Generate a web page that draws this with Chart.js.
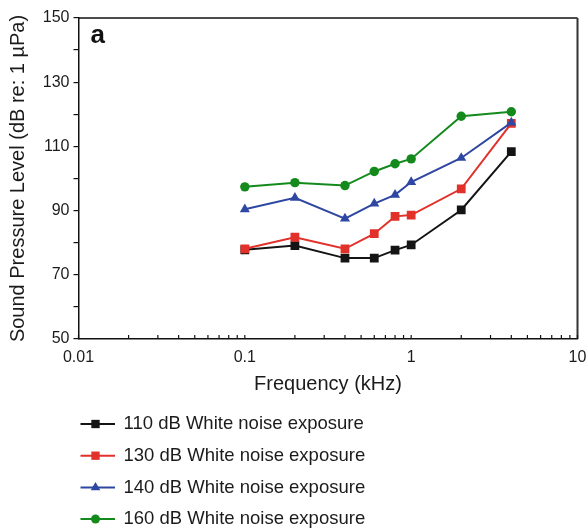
<!DOCTYPE html>
<html>
<head>
<meta charset="utf-8">
<script src="https://cdn.jsdelivr.net/npm/chart.js"></script>
<style>
  body { margin: 0; background: #fff; }
  #wrap { width: 586px; height: 529px; position: relative; }
</style>
</head>
<body>
<div id="wrap"><canvas id="myChart"></canvas></div>
<script>
'use strict'

/* global Chart */

const freqs = [0.1, 0.2, 0.4, 0.6, 0.8, 1, 2, 4]
const spl110 = [77.8, 79.1, 75.2, 75.2, 77.7, 79.3, 90.2, 108.4]
const spl130 = [78.1, 81.7, 78.1, 82.8, 88.2, 88.6, 96.8, 117.2]
const spl140 = [90.4, 94.0, 87.5, 92.2, 94.9, 98.9, 106.4, 117.4]
const spl160 = [97.4, 98.7, 97.8, 102.2, 104.6, 106.1, 119.4, 120.8]
const seriesNames = [
  '110 dB White noise exposure',
  '130 dB White noise exposure',
  '140 dB White noise exposure',
  '160 dB White noise exposure'
]
const xTickLabels = ['0.01', '0.1', '1', '10']
const yTickLabels = ['50', '70', '90', '110', '130', '150']

const FONT = 'Liberation Sans, Arial, Helvetica, sans-serif'
const TEXT = '#1b1b1b'

function pts (ys) {
  return ys.map((y, i) => ({ x: freqs[i], y: y }))
}

const styles = [
  { color: '#141414', shape: 'rect', r: 6.2 },
  { color: '#e2312a', shape: 'rect', r: 6.2 },
  { color: '#2e47a2', shape: 'triangle', r: 5.8 },
  { color: '#148a1c', shape: 'circle', r: 4.7 }
]
const values = [spl110, spl130, spl140, spl160]

const datasets = values.map((v, i) => ({
  label: seriesNames[i],
  data: pts(v),
  borderColor: styles[i].color,
  backgroundColor: styles[i].color,
  borderWidth: 2,
  pointStyle: styles[i].shape,
  pointRadius: styles[i].r,
  pointBorderWidth: 0,
  order: 4 - i,
  tension: 0
}))

// minor ticks on the log axis: 1..9 of each decade
function logTicks () {
  const t = []
  for (let d = -2; d <= 0; d++) {
    for (let m = 1; m <= 9; m++) t.push(+(m * Math.pow(10, d)).toPrecision(2))
  }
  t.push(10)
  return t
}

function drawMarker (ctx, shape, x, y, r) {
  ctx.beginPath()
  if (shape === 'rect') {
    const s = Math.SQRT1_2 * r
    ctx.rect(x - s, y - s, 2 * s, 2 * s)
  } else if (shape === 'triangle') {
    ctx.moveTo(x, y - r)
    ctx.lineTo(x + r * 0.866, y + r / 2)
    ctx.lineTo(x - r * 0.866, y + r / 2)
    ctx.closePath()
  } else {
    ctx.arc(x, y, r, 0, Math.PI * 2)
  }
  ctx.fill()
}

const framePlugin = {
  id: 'frame',
  afterDraw (chart) {
    const ctx = chart.ctx
    const a = chart.chartArea
    const xs = chart.scales.x
    ctx.save()
    // top and right border
    ctx.strokeStyle = '#111'
    ctx.lineWidth = 1.5
    ctx.beginPath()
    ctx.moveTo(a.left, a.top)
    ctx.lineTo(a.right, a.top)
    ctx.stroke()
    ctx.strokeStyle = '#333'
    ctx.lineWidth = 2
    ctx.beginPath()
    ctx.moveTo(a.right, a.top)
    ctx.lineTo(a.right, a.bottom)
    ctx.stroke()
    // inward ticks on the x axis
    ctx.strokeStyle = '#111'
    ctx.lineWidth = 1.2
    for (const v of logTicks()) {
      const px = xs.getPixelForValue(v)
      ctx.beginPath()
      ctx.moveTo(px, a.bottom)
      ctx.lineTo(px, a.bottom - 4)
      ctx.stroke()
    }
    // panel letter
    ctx.fillStyle = '#111'
    ctx.font = 'bold 26px ' + FONT
    ctx.textBaseline = 'alphabetic'
    ctx.fillText('a', 90.5, 42.5)

    // legend
    ctx.font = '18.5px ' + FONT
    ctx.textBaseline = 'middle'
    const rowY = [424, 455.7, 487.5, 519]
    for (let i = 0; i < seriesNames.length; i++) {
      const y = rowY[i]
      ctx.strokeStyle = styles[i].color
      ctx.fillStyle = styles[i].color
      ctx.lineWidth = 2
      ctx.beginPath()
      ctx.moveTo(80.5, y)
      ctx.lineTo(115, y)
      ctx.stroke()
      drawMarker(ctx, styles[i].shape, 95.5, y, styles[i].r * 0.95)
      ctx.fillStyle = TEXT
      ctx.fillText(seriesNames[i], 123.5, y)
    }
    ctx.restore()
  }
}

new Chart(document.getElementById('myChart'), {
  type: 'line',
  data: { datasets: datasets },
  plugins: [framePlugin],
  options: {
    responsive: true,
    maintainAspectRatio: false,
    animation: false,
    layout: { padding: { left: 0, top: 18, right: 8.5, bottom: 120 } },
    plugins: {
      legend: { display: false },
      tooltip: { enabled: false }
    },
    scales: {
      x: {
        type: 'logarithmic',
        min: 0.01,
        max: 10,
        afterBuildTicks (scale) {
          scale.ticks = logTicks().map(v => ({ value: v }))
        },
        afterFit (scale) {
          scale.height = 70
          scale.paddingLeft = 0
          scale.paddingRight = 0
        },
        grid: { display: false, drawTicks: false },
        border: { display: true, color: '#111', width: 1.5 },
        ticks: {
          autoSkip: false,
          maxRotation: 0,
          padding: 9,
          color: TEXT,
          font: { family: FONT, size: 16 },
          callback (v) {
            const i = [0.01, 0.1, 1, 10].indexOf(v)
            return i >= 0 ? xTickLabels[i] : ''
          }
        },
        title: {
          display: true,
          text: 'Frequency (kHz)',
          color: TEXT,
          font: { family: FONT, size: 20 },
          padding: { top: 0, bottom: 13 }
        }
      },
      y: {
        min: 50,
        max: 150,
        afterFit (scale) { scale.width = 78.5 },
        grid: {
          drawOnChartArea: false,
          drawTicks: true,
          tickLength: 5,
          color: '#111',
          lineWidth: 1.2
        },
        border: { display: true, color: '#111', width: 1.5 },
        ticks: {
          stepSize: 10,
          padding: 4,
          color: TEXT,
          font: { family: FONT, size: 16 },
          callback (v) {
            const i = [50, 70, 90, 110, 130, 150].indexOf(v)
            return i >= 0 ? yTickLabels[i] : ''
          }
        },
        title: {
          display: true,
          text: 'Sound Pressure Level (dB re: 1 \u00b5Pa)',
          color: TEXT,
          font: { family: FONT, size: 20 },
          padding: { top: 6, bottom: 0 }
        }
      }
    }
  }
})
</script>
</body>
</html>
